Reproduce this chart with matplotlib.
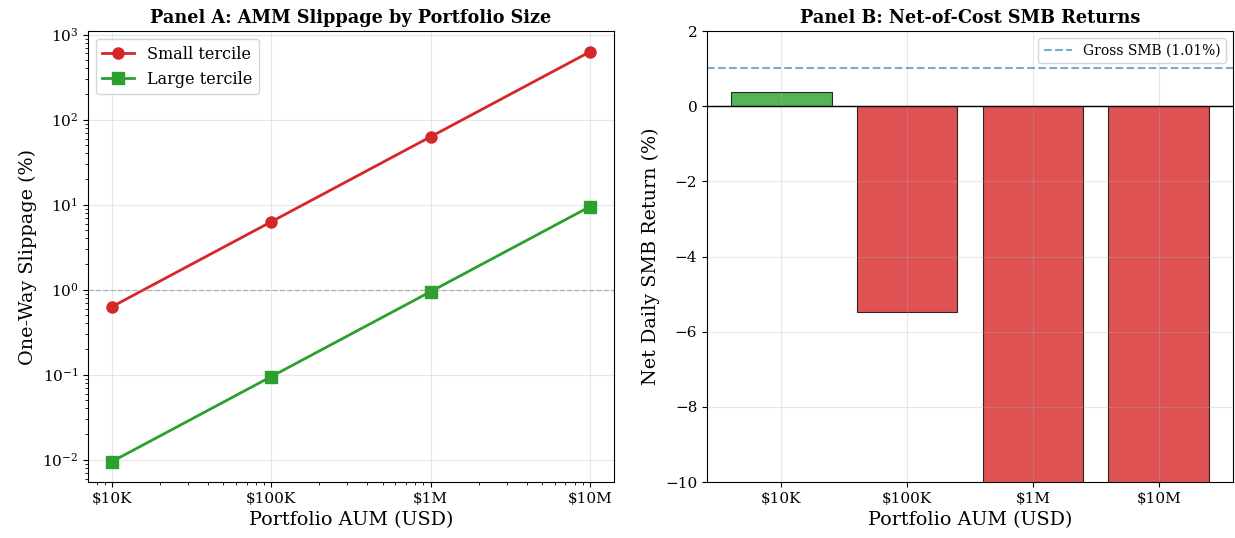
import numpy as np
import matplotlib
matplotlib.use("Agg")
import matplotlib.pyplot as plt

plt.rcParams['font.family'] = ['DejaVu Serif']

# portfolio sizes (USD) and labels
aum = [1e4, 1e5, 1e6, 1e7]
aum_labels = ["$10K", "$100K", "$1M", "$10M"]

# one-way slippage (%) per tercile
slip_small = [0.63, 6.3, 63.0, 630.0]
slip_large = [0.0095, 0.095, 0.95, 9.5]

# net daily SMB return (%) after costs
net_smb = [0.37, -5.48, -62.5, -629.0]
gross_smb = 1.01

fig, (ax1, ax2) = plt.subplots(1, 2, figsize=(12.35, 5.38), dpi=100)
fig.subplots_adjust(left=0.0713, right=0.9984, top=0.942, bottom=0.104, wspace=0.177)

# Panel A
ax1.plot(aum, slip_small, "o-", color="tab:red", lw=2, ms=8, label="Small tercile")
ax1.plot(aum, slip_large, "s-", color="tab:green", lw=2, ms=8, label="Large tercile")
ax1.axhline(1.0, color="gray", ls="--", lw=1, alpha=0.5)
ax1.set_xscale("log")
ax1.set_yscale("log")
ax1.set_xticks(aum)
ax1.set_xticklabels(aum_labels)
ax1.set_xlabel("Portfolio AUM (USD)", fontsize=13.8)
ax1.set_ylabel("One-Way Slippage (%)", fontsize=13.8)
ax1.set_title("Panel A: AMM Slippage by Portfolio Size", fontsize=12.7, fontweight="bold")
ax1.legend(loc="upper left", fontsize=11.5)
ax1.grid(True, alpha=0.3)
ax1.tick_params(labelsize=11)

# Panel B
x = np.arange(len(aum))
colors = ["tab:green" if v > 0 else "tab:red" for v in net_smb]
ax2.bar(x, net_smb, color=colors, alpha=0.8, edgecolor="black", linewidth=0.8)
ax2.axhline(0, color="black", lw=1)
ax2.axhline(gross_smb, color="tab:blue", ls="--", lw=1.5, alpha=0.6,
            label="Gross SMB ({:.2f}%)".format(gross_smb))
ax2.set_ylim(-10, 2)
ax2.set_xticks(x)
ax2.set_xticklabels(aum_labels)
ax2.set_xlabel("Portfolio AUM (USD)", fontsize=13.8)
ax2.set_ylabel("Net Daily SMB Return (%)", fontsize=13.8)
ax2.set_title("Panel B: Net-of-Cost SMB Returns", fontsize=12.7, fontweight="bold")
ax2.legend(loc="upper right", fontsize=10)
ax2.grid(True, alpha=0.3)
ax2.tick_params(labelsize=11)

plt.savefig("out.png")
